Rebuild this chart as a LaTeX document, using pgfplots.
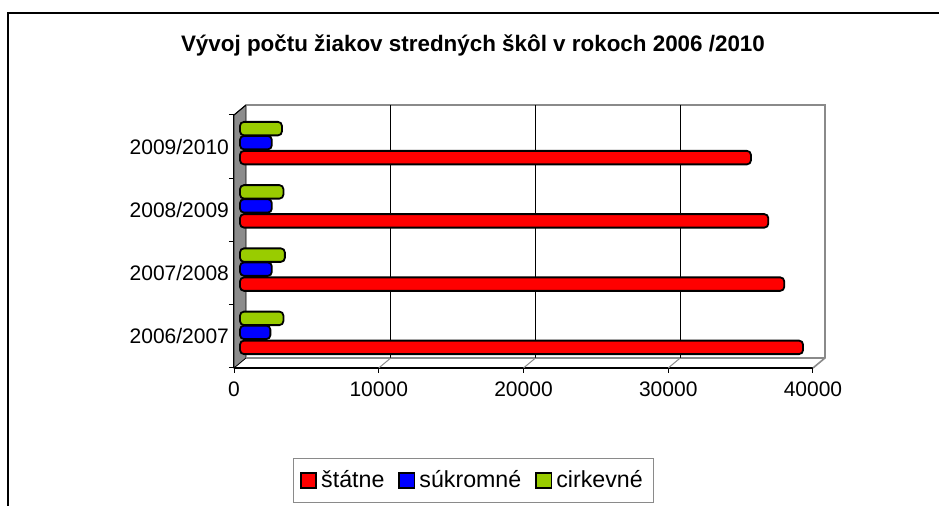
\documentclass[border=0pt]{standalone}
\usepackage{pgfplots}
\pgfplotsset{compat=1.18}
\usepackage{fontspec}
\setmainfont{Liberation Sans}
\definecolor{cred}{HTML}{FF0000}
\definecolor{cblue}{HTML}{0000FF}
\definecolor{cgreen}{HTML}{99CC00}
\definecolor{wallgray}{HTML}{8C8C8C}
\definecolor{linegray}{HTML}{8A8A8A}
\begin{document}
\begin{tikzpicture}
\path[use as bounding box] (0,0) rectangle (469.5pt,253pt);
\draw[line width=0.8pt] (4pt,0pt) -- (4pt,246.5pt) -- (469.5pt,246.5pt);
\node[font=\fontsize{11.2}{13}\selectfont\bfseries] at (236.5pt,230.5pt) {Vývoj počtu žiakov stredných škôl v rokoch 2006 /2010};
\begin{axis}[
  scale only axis, width=289.5pt, height=126.5pt,
  at={(117pt,69pt)}, anchor=south west,
  xmin=0, xmax=40000, ymin=-0.5, ymax=3.5,
  clip=false,
  axis x line*=bottom, axis y line*=left,
  axis line style={black, line width=0.6pt},
  xtick={0,10000,20000,30000,40000},
  scaled x ticks=false,
  ytick={-0.5,0.5,1.5,2.5,3.5},
  yticklabels={},
  extra y ticks={0,1,2,3},
  extra y tick labels={2006/2007,2007/2008,2008/2009,2009/2010},
  extra y tick style={major tick length=0pt, yticklabel style={xshift=1pt}},
  tick align=outside,
  major tick length=2.5pt,
  tick style={black, line width=0.5pt},
  ticklabel style={font=\fontsize{10.5}{12}\selectfont},
  xticklabel style={yshift=-1pt},
  /pgf/number format/1000 sep={},
  /pgf/number format/assume math mode=true,
  legend columns=3,
  legend style={at={(0.4136,-0.4447)}, anchor=center, draw=linegray, line width=0.6pt,
    font=\fontsize{11.6}{13}\selectfont,
    /tikz/every even column/.append style={column sep=5pt},
    inner xsep=3.5pt, inner ysep=4pt},
]
% 3D walls
\fill[wallgray, draw=black, line width=0.4pt] (axis cs:0,-0.5) -- (axis cs:0,3.5) -- ([xshift=6pt,yshift=5pt]axis cs:0,3.5) -- ([xshift=6pt,yshift=5pt]axis cs:0,-0.5) -- cycle;
\draw[linegray, line width=0.8pt] ([xshift=6pt,yshift=5pt]axis cs:0,3.5) -- ([xshift=6pt,yshift=5pt]axis cs:40000,3.5) -- ([xshift=6pt,yshift=5pt]axis cs:40000,-0.5) -- (axis cs:40000,-0.5);
\draw[linegray, line width=0.6pt] ([xshift=6pt,yshift=5pt]axis cs:0,-0.5) -- ([xshift=6pt,yshift=5pt]axis cs:40000,-0.5);
\draw[black, line width=0.5pt] ([xshift=6pt,yshift=5pt]axis cs:10000,-0.5) -- ([xshift=6pt,yshift=5pt]axis cs:10000,3.5);
\draw[black, line width=0.5pt] ([xshift=6pt,yshift=5pt]axis cs:20000,-0.5) -- ([xshift=6pt,yshift=5pt]axis cs:20000,3.5);
\draw[black, line width=0.5pt] ([xshift=6pt,yshift=5pt]axis cs:30000,-0.5) -- ([xshift=6pt,yshift=5pt]axis cs:30000,3.5);
\draw[linegray, line width=0.5pt] (axis cs:10000,-0.5) -- ([xshift=6pt,yshift=5pt]axis cs:10000,-0.5);
\draw[linegray, line width=0.5pt] (axis cs:20000,-0.5) -- ([xshift=6pt,yshift=5pt]axis cs:20000,-0.5);
\draw[linegray, line width=0.5pt] (axis cs:30000,-0.5) -- ([xshift=6pt,yshift=5pt]axis cs:30000,-0.5);
\draw[black, line width=0.5pt] (axis cs:0,3.5) -- ([xshift=6pt,yshift=5pt]axis cs:0,3.5);

\addplot[xbar, bar width=6.75pt, bar shift=-5.5pt, xshift=3pt, draw=black, line width=0.9pt, rounded corners=2pt,
  fill=cred,
  legend image code/.code={\draw[sharp corners,fill=cred,draw=black,line width=0.9pt] (0pt,-3.8pt) rectangle (7.6pt,3.8pt);}]
  coordinates {(38900,0) (37600,1) (36500,2) (35300,3)};
\addplot[xbar, bar width=6.75pt, bar shift=2pt, xshift=3pt, draw=black, line width=0.9pt, rounded corners=2pt,
  fill=cblue,
  legend image code/.code={\draw[sharp corners,fill=cblue,draw=black,line width=0.9pt] (0pt,-3.8pt) rectangle (7.6pt,3.8pt);}]
  coordinates {(2100,0) (2200,1) (2200,2) (2200,3)};
\addplot[xbar, bar width=6.75pt, bar shift=9pt, xshift=3pt, draw=black, line width=0.9pt, rounded corners=2pt,
  fill=cgreen,
  legend image code/.code={\draw[sharp corners,fill=cgreen,draw=black,line width=0.9pt] (0pt,-3.8pt) rectangle (7.6pt,3.8pt);}]
  coordinates {(3000,0) (3100,1) (3000,2) (2900,3)};
\legend{štátne, súkromné, cirkevné}
\end{axis}
\end{tikzpicture}
\end{document}
